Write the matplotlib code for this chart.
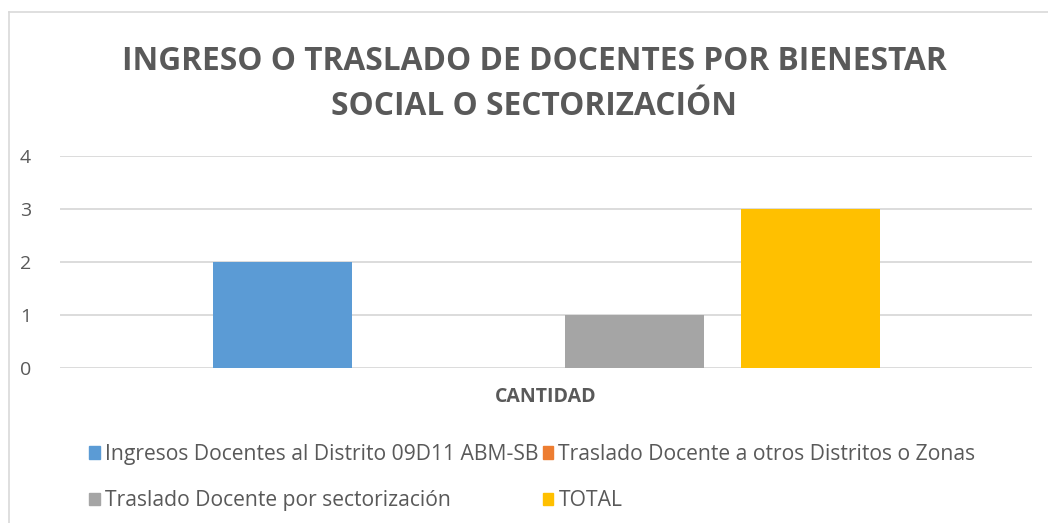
import matplotlib
matplotlib.use("Agg")
import matplotlib.pyplot as plt
from matplotlib.patches import Patch
from matplotlib.lines import Line2D

plt.rcParams['font.family'] = ['Open Sans', 'DejaVu Sans']

title = "INGRESO O TRASLADO DE DOCENTES POR BIENESTAR\nSOCIAL O SECTORIZACIÓN"
category = "CANTIDAD"
series = ["Ingresos Docentes al Distrito 09D11 ABM-SB",
          "Traslado Docente a otros Distritos o Zonas",
          "Traslado Docente por sectorización",
          "TOTAL"]
values = [2, 0, 1, 3]
colors = ["#5B9BD5", "#ED7D31", "#A5A5A5", "#FFC000"]
yticks = [0, 1, 2, 3, 4]

W, H = 1048, 523
fig = plt.figure(figsize=(W / 100, H / 100), dpi=100)

# chart frame (light gray border, top and left visible)
fig.add_artist(Line2D([9 / W, 9 / W], [0, 1 - 12 / H], color="#D9D9D9", lw=1.2))
fig.add_artist(Line2D([9 / W, 1], [1 - 12 / H, 1 - 12 / H], color="#D9D9D9", lw=1.2))

ax = fig.add_axes([60 / W, (H - 368) / H, 972 / W, 212 / H])

bw = 139 / 972
step = 176 / 972
for i, (v, c) in enumerate(zip(values, colors)):
    x = (i - 1.5) * step
    ax.bar(x, v, width=bw, color=c, zorder=3)

ax.set_xlim(-0.5, 0.5)
ax.set_ylim(0, 4)
ax.set_yticks(yticks)
ax.grid(axis="y", color="#D9D9D9", lw=1.3, zorder=0)
for s in ax.spines.values():
    s.set_visible(False)
ax.tick_params(axis="y", length=0, pad=21, labelsize=14, labelcolor="#595959")
ax.set_xticks([0])
ax.set_xticklabels([category], fontsize=14, fontweight="bold", color="#595959")
ax.tick_params(axis="x", length=0, pad=14)

fig.text(534 / W, 1 - 84 / H, title, ha="center", va="center",
         fontsize=22.8, fontweight="bold", color="#595959", linespacing=1.46)

handles = [Patch(color=colors[0]), Patch(color=colors[2]),
           Patch(color=colors[1]), Patch(color=colors[3])]
labels = [series[0], series[2], series[1], series[3]]
fig.legend(handles, labels, ncol=2, loc="upper left",
           bbox_to_anchor=(70 / W, 1 - 425 / H), frameon=False,
           fontsize=15.2, labelcolor="#595959", handlelength=0.5, handleheight=0.5,
           handletextpad=0.25, columnspacing=0.2, labelspacing=1.2)

fig.savefig("out.png", dpi=100)
